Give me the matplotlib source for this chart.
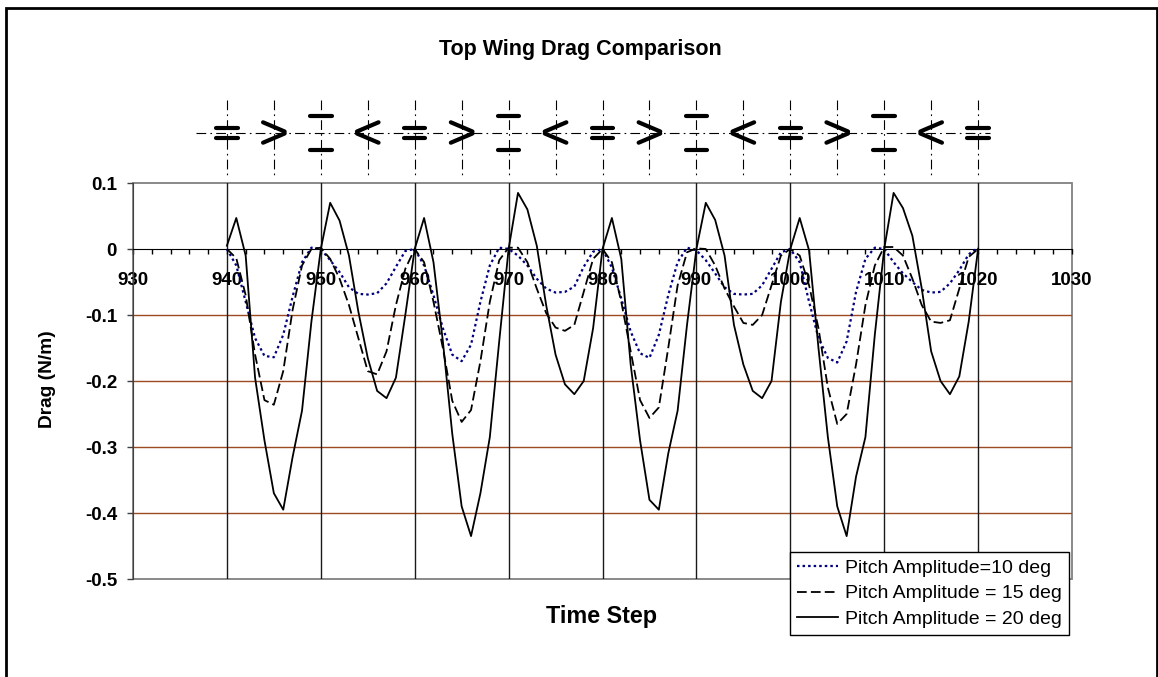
import matplotlib
matplotlib.use("Agg")
from matplotlib import pyplot as plt
from matplotlib.patches import Rectangle

plt.rcParams['font.family'] = ['Liberation Sans', 'DejaVu Sans']
plt.rcParams['lines.scale_dashes'] = False

# time steps 940..1020
steps = list(range(940, 1021))

drag_10 = [0.0, -0.025, -0.08, -0.135, -0.162, -0.164, -0.13, -0.072, -0.02, 0.002,
           0.0, -0.017, -0.035, -0.058, -0.068, -0.069, -0.067, -0.052, -0.027, -0.003,
           0.0, -0.025, -0.07, -0.12, -0.16, -0.17, -0.145, -0.08, -0.025, 0.002,
           0.0, -0.01, -0.025, -0.045, -0.06, -0.066, -0.065, -0.057, -0.027, -0.004,
           0.0, -0.028, -0.075, -0.125, -0.158, -0.165, -0.13, -0.07, -0.02, 0.002,
           -0.002, -0.017, -0.037, -0.058, -0.068, -0.069, -0.068, -0.055, -0.03, -0.005,
           0.0, -0.02, -0.08, -0.135, -0.165, -0.172, -0.14, -0.065, -0.015, 0.002,
           0.0, -0.02, -0.037, -0.05, -0.062, -0.066, -0.065, -0.052, -0.032, -0.008,
           0.002]

drag_15 = [0.0, -0.014, -0.07, -0.16, -0.229, -0.236, -0.185, -0.092, -0.025, 0.0,
           0.002, -0.015, -0.045, -0.085, -0.135, -0.185, -0.19, -0.155, -0.085, -0.03,
           0.0, -0.02, -0.08, -0.15, -0.23, -0.262, -0.244, -0.17, -0.08, -0.017,
           0.002, 0.002, -0.02, -0.06, -0.097, -0.119, -0.124, -0.115, -0.065, -0.015,
           0.0, -0.02, -0.08, -0.155, -0.229, -0.256, -0.24, -0.15, -0.055, -0.005,
           0.001, 0.0, -0.025, -0.06, -0.087, -0.112, -0.115, -0.1, -0.055, -0.01,
           0.0, -0.01, -0.055, -0.12, -0.21, -0.265, -0.25, -0.175, -0.085, -0.025,
           0.003, 0.003, -0.01, -0.045, -0.085, -0.11, -0.112, -0.108, -0.06, -0.012,
           0.0]

drag_20 = [0.005, 0.047, -0.01, -0.195, -0.29, -0.37, -0.395, -0.315, -0.245, -0.11,
           0.0, 0.07, 0.043, -0.01, -0.095, -0.165, -0.215, -0.226, -0.195, -0.1,
           0.0, 0.047, -0.02, -0.14, -0.28, -0.39, -0.435, -0.37, -0.285, -0.14,
           0.0, 0.085, 0.06, 0.005, -0.085, -0.16, -0.205, -0.22, -0.2, -0.12,
           0.0, 0.047, -0.015, -0.175, -0.29, -0.38, -0.395, -0.31, -0.245, -0.115,
           0.0, 0.07, 0.044, -0.01, -0.115, -0.175, -0.215, -0.226, -0.2, -0.08,
           0.0, 0.047, -0.002, -0.15, -0.285, -0.39, -0.435, -0.345, -0.285, -0.13,
           0.0, 0.085, 0.062, 0.02, -0.06, -0.155, -0.2, -0.22, -0.193, -0.11,
           0.0]

labels = ["Pitch Amplitude=10 deg", "Pitch Amplitude = 15 deg", "Pitch Amplitude = 20 deg"]

x_ticks = list(range(930, 1031, 10))
y_ticks = [0.1, 0.0, -0.1, -0.2, -0.3, -0.4, -0.5]

# wing position sketches above the plot, every 5 steps
wing_steps = list(range(940, 1021, 5))
wing_shapes = ['=', '>', 'T', '<'] * 4 + ['=']

W, H = 1158, 677
fig = plt.figure(figsize=(W / 100, H / 100), dpi=100)
fig.patch.set_facecolor('white')

ax_l, ax_r, ax_t, ax_b = 133, 1072, 183, 579
ax = fig.add_axes([ax_l / W, 1 - ax_b / H, (ax_r - ax_l) / W, (ax_b - ax_t) / H])
ax.set_xlim(930, 1030)
ax.set_ylim(-0.5, 0.1)

for yv in y_ticks:
    if -0.5 < yv < 0:
        ax.axhline(yv, color='#9C4A22', lw=1.0, zorder=1)
for xv in x_ticks:
    if 930 < xv < 1030:
        ax.axvline(xv, color='#1a1a1a', lw=1.0, zorder=1)

l1, = ax.plot(steps, drag_10, color='#000080', lw=1.6, linestyle=(0, (1.8, 2.2)), zorder=3)
l2, = ax.plot(steps, drag_15, color='black', lw=1.3, linestyle=(0, (7, 3)), zorder=3)
l3, = ax.plot(steps, drag_20, color='black', lw=1.3, zorder=3)

ax.spines['top'].set_visible(False)
ax.spines['right'].set_visible(False)
ax.spines['bottom'].set_position(('data', 0))
ax.spines['bottom'].set_color('black')
ax.spines['left'].set_color('#404040')
ax.add_patch(Rectangle((0, 0), 1, 1, transform=ax.transAxes, fill=False,
                       edgecolor='#808080', lw=1.3, zorder=0.5, clip_on=False))

ax.set_xticks(x_ticks)
ax.set_xticks(list(range(930, 1031, 2)), minor=True)
ax.set_yticks(y_ticks)
ax.set_xticklabels([str(v) for v in x_ticks], fontweight='bold', fontsize=13.5)
ax.set_yticklabels(['0.1', '0', '-0.1', '-0.2', '-0.3', '-0.4', '-0.5'], fontweight='bold', fontsize=13.5)
ax.tick_params(axis='x', which='both', direction='out', length=3.5, width=1, pad=13)
ax.tick_params(axis='y', direction='out', length=4.5, width=1, pad=7, color='#404040')

leg = ax.legend([l1, l2, l3], labels, loc='upper left',
                bbox_to_anchor=(790 / W, 1 - 552 / H), bbox_transform=fig.transFigure,
                fontsize=14, frameon=True, fancybox=False, framealpha=1,
                edgecolor='black', borderaxespad=0, borderpad=0.38,
                handlelength=2.1, handletextpad=0.35, labelspacing=0.4)
leg.get_frame().set_linewidth(1.0)
leg.set_zorder(5)

fig.text(580 / W, 1 - 50 / H, 'Top Wing Drag Comparison', ha='center', va='center',
         fontsize=15.5, fontweight='bold')
fig.text(47 / W, 1 - 379 / H, 'Drag (N/m)', ha='center', va='center', rotation=90,
         fontsize=13.8, fontweight='bold')
fig.text(602 / W, 1 - 617 / H, 'Time Step', ha='center', va='center',
         fontsize=16.8, fontweight='bold')

# sketch strip (y in pixel rows)
sym = fig.add_axes([ax_l / W, 1 - 180 / H, (ax_r - ax_l) / W, 85 / H])
sym.set_xlim(930, 1030)
sym.set_ylim(180, 95)
sym.axis('off')
dashdot = (0, (7, 3, 1.2, 3))
sym.vlines(wing_steps, 100, 177, colors='black', lw=0.8, linestyles=[dashdot])
sym.plot([936.7, 1021.3], [132.7, 132.7], color='black', lw=0.8, linestyle=dashdot)
hw = 1.15
kw = dict(color='black', lw=3.0, solid_capstyle='round')
for xs, shape in zip(wing_steps, wing_shapes):
    if shape == '=':
        sym.plot([xs - hw, xs + hw], [127.7, 127.7], **kw)
        sym.plot([xs - hw, xs + hw], [137.7, 137.7], **kw)
    elif shape == 'T':
        sym.plot([xs - hw, xs + hw], [116, 116], **kw)
        sym.plot([xs - hw, xs + hw], [150, 150], **kw)
    elif shape == '>':
        sym.plot([xs - hw, xs + hw], [122.3, 131.5], **kw)
        sym.plot([xs - hw, xs + hw], [142.7, 133.5], **kw)
    else:
        sym.plot([xs - hw, xs + hw], [131.5, 122.3], **kw)
        sym.plot([xs - hw, xs + hw], [133.5, 142.7], **kw)

# outer chart border (bottom edge lies below the picture)
fig.patches.append(Rectangle((6 / W, -0.05), (1157 - 6) / W, 1.05 - 8 / H,
                             transform=fig.transFigure, fill=False,
                             edgecolor='black', lw=2.0))

fig.savefig('out.png', dpi=100)
